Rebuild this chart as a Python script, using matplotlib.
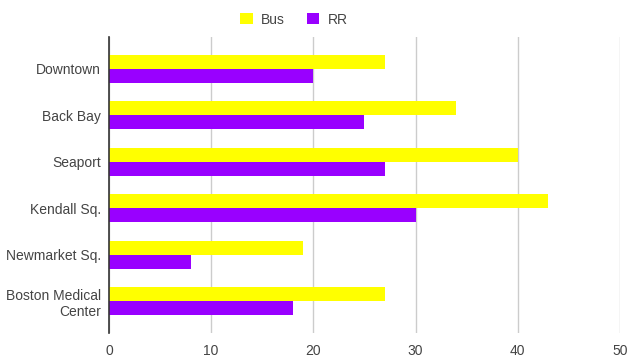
import numpy as np
import matplotlib
matplotlib.use("Agg")
import matplotlib.pyplot as plt

plt.rcParams['font.family'] = ['Liberation Sans', 'DejaVu Sans']

places = ['Downtown', 'Back Bay', 'Seaport', 'Kendall Sq.', 'Newmarket Sq.',
          'Boston Medical\nCenter']
bus = [27, 34, 40, 43, 19, 27]
rr = [20, 25, 27, 30, 8, 18]
xticks = [0, 10, 20, 30, 40, 50]

fig = plt.figure(figsize=(6.28, 3.58), dpi=100)
ax = fig.add_axes([0.1736, 0.0698, 0.8134, 0.8268])

y = np.arange(len(places))
h = 0.3
ax.barh(y - h/2, bus, height=h, color='#ffff00', label='Bus', zorder=3)
ax.barh(y + h/2, rr, height=h, color='#9900ff', label='RR', zorder=3)

ax.set_ylim(len(places) - 0.5 + 0.18, -0.5 - 0.18)
ax.set_xlim(0, 50)
ax.set_xticks(xticks)
ax.set_yticks(y)
ax.set_yticklabels(places)
ax.tick_params(length=0, labelsize=10, colors='#444444', pad=6)
ax.tick_params(axis='x', pad=8)
for lab in ax.get_yticklabels():
    lab.set_multialignment('right')

ax.grid(axis='x', color='#cccccc', linewidth=1, zorder=0)
for s in ['top', 'right', 'bottom']:
    ax.spines[s].set_visible(False)
ax.spines['left'].set_color('#333333')
ax.spines['left'].set_linewidth(1.2)
ax.spines['left'].set_zorder(4)

fig.legend(loc='upper center', bbox_to_anchor=(0.468, 1.0), ncol=2, frameon=False,
           fontsize=10, handlelength=0.9, handleheight=0.9, columnspacing=1.6,
           handletextpad=0.6, labelcolor='#444444')

fig.savefig('out.png', dpi=100)
